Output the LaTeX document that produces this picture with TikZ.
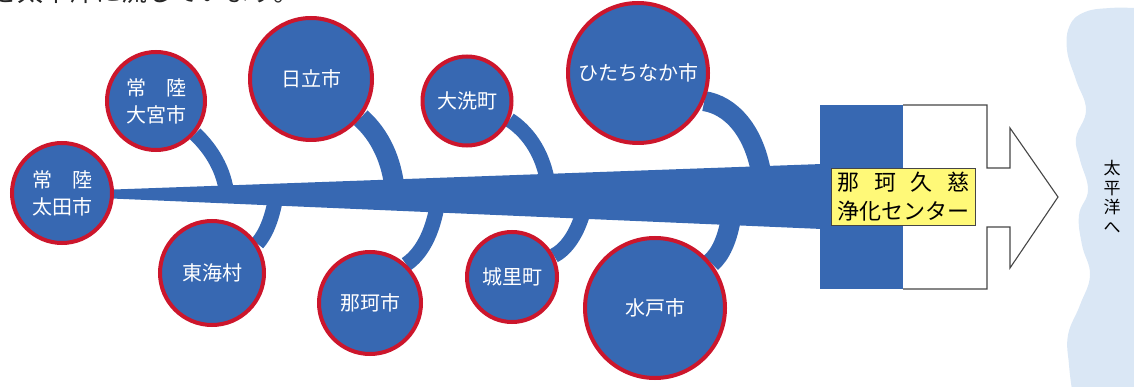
\documentclass[tikz,border=0pt]{standalone}
\usepackage{fontspec}
\usetikzlibrary{backgrounds}
\newfontfamily\jp{Noto Sans CJK JP}
\definecolor{cityblue}{RGB}{55,104,178}
\definecolor{cityred}{RGB}{204,22,44}
\definecolor{labelyellow}{RGB}{255,249,120}
\definecolor{seablue}{RGB}{218,231,245}
\definecolor{outlinegray}{RGB}{70,70,70}
\tikzset{
  city/.style={circle, draw=cityred, line width=4pt, fill=cityblue, text=white,
    font=\jp\fontsize{20}{27}\selectfont, inner sep=0pt, align=center},
  branch/.style={draw=cityblue, line width=15pt},
  thickbranch/.style={draw=cityblue, line width=20pt},
}
\begin{document}
\begin{tikzpicture}[x=1pt,y=-1pt]
\useasboundingbox (0,0) rectangle (1134,387);
\begin{scope}
\clip (0,0) rectangle (1134,387);
% top sliver of running text
\node[anchor=base west, inner sep=0pt, font=\jp\fontsize{26}{26}\selectfont, text=black!85] (toptext) at (-9,2) {を太平洋に流しています。};
% sea band
\fill[seablue] plot[smooth, tension=0.7] coordinates {(1072,390)(1069,365)(1068,335)(1080,305)(1090,275)(1082,245)(1079,215)(1088,190)(1080,160)(1076,138)(1086,110)(1076,80)(1067,50)(1070,25)(1085,12)(1110,8)(1134,8)} -- (1134,390) -- cycle;
\end{scope}
\node[font=\jp\fontsize{17}{19.5}\selectfont, align=center, inner sep=0pt] (pacific) at (1112,197) {太\\平\\洋\\へ};

% centre: blue block, white outline with arrow
\fill[cityblue] (820,105) rectangle (903,289);
\draw[outlinegray, line width=1.1pt, fill=white] (903,105) -- (987,105) -- (987,168) -- (1010,168) -- (1010,128) -- (1058,197) -- (1010,268) -- (1010,227) -- (987,227) -- (987,289) -- (903,289);

% trunk
\fill[cityblue] (100,190) -- (822,164) -- (822,229) -- (100,198) -- cycle;

% label
\node[draw=outlinegray, line width=0.8pt, fill=labelyellow, inner xsep=6pt, inner ysep=4pt, align=left,
  font=\jp\fontsize{22}{29}\selectfont, text=black] (center) at (903.5,197)
  {\makebox[6em][s]{那\hfil 珂\hfil 久\hfil 慈}\\浄化センター};

% cities
\node[city, minimum size=100pt] (ota) at (62,193) {常　陸\\太田市};
\node[city, minimum size=98pt] (omiya) at (156,101) {常　陸\\大宮市};
\node[city, minimum size=122pt] (hitachi) at (311,79) {日立市};
\node[city, minimum size=89pt] (oarai) at (467,101) {大洗町};
\node[city, minimum size=140pt] (hitachinaka) at (638,73) {ひたちなか市};
\node[city, minimum size=104pt] (tokai) at (212,273) {東海村};
\node[city, minimum size=102pt] (naka) at (370,303) {那珂市};
\node[city, minimum size=90pt] (shirosato) at (512,277) {城里町};
\node[city, minimum size=140pt] (mito) at (655,308) {水戸市};

% trunk joints
\coordinate (j1) at (227,195);
\coordinate (j2) at (395,192);
\coordinate (j3) at (548,185);
\coordinate (j4) at (762,178);
\coordinate (j5) at (276,196);
\coordinate (j6) at (438,200);
\coordinate (j7) at (585,205);
\coordinate (j8) at (732,212);

% branches (behind circles and trunk)
\begin{scope}[on background layer]
\draw[branch] (omiya.-40) .. controls (212,150) and (224,170) .. (j1);
\draw[thickbranch] (hitachi.-38) .. controls (380,135) and (392,160) .. (j2);
\draw[branch] (oarai.-24) .. controls (525,130) and (543,150) .. (j3);
\draw[thickbranch] (hitachinaka.-23) .. controls (730,105) and (755,130) .. (j4);
\draw[branch] (tokai.33) .. controls (265,235) and (272,220) .. (j5);
\draw[branch] (naka.47) .. controls (420,255) and (433,235) .. (j6);
\draw[branch] (shirosato.27) .. controls (565,250) and (578,235) .. (j7);
\draw[thickbranch] (mito.39) .. controls (720,255) and (728,240) .. (j8);
\end{scope}
\end{tikzpicture}
\end{document}
